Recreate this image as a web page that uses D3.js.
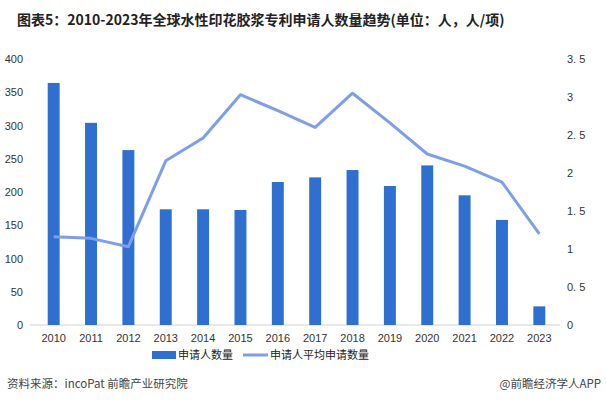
<!DOCTYPE html>
<html>
<head>
<meta charset="utf-8">
<script src="https://cdn.jsdelivr.net/npm/d3@7"></script>
<style>
  body { margin: 0; background: #fff; }
  text { font-family: "Liberation Sans", Arial, sans-serif; }
  .cjk { font-family: "Noto Sans CJK SC", sans-serif; }
</style>
</head>
<body>
<script>
const years = ["2010","2011","2012","2013","2014","2015","2016","2017","2018","2019","2020","2021","2022","2023"];
const applicants = [364, 304, 263, 174, 174, 173, 215, 222, 233, 209, 240, 195, 158, 28];
const avgApps = [1.16, 1.14, 1.03, 2.16, 2.46, 3.03, 2.82, 2.6, 3.05, 2.66, 2.25, 2.09, 1.88, 1.2];
const leftTicks = [0, 50, 100, 150, 200, 250, 300, 350, 400];
const rightTicks = [0, 0.5, 1, 1.5, 2, 2.5, 3, 3.5];

const width = 606, height = 410;
const margin = {top: 59, right: 48, bottom: 85, left: 35};
const barColor = "#2f6fcf", lineColor = "#7e9fe6";

const svg = d3.select("body").append("svg")
              .attr("width", width)
              .attr("height", height);

const x = d3.scaleBand()
            .domain(years)
            .range([margin.left, width - margin.right])
            .paddingInner(0.68)
            .paddingOuter(0.34);

const yL = d3.scaleLinear().domain([0, 400]).range([height - margin.bottom, margin.top]);
const yR = d3.scaleLinear().domain([0, 3.5]).range([height - margin.bottom, margin.top]);

// title
svg.append("text")
   .attr("class", "cjk")
   .attr("x", 17).attr("y", 25)
   .attr("font-size", 14).attr("font-weight", "bold")
   .attr("fill", "#222")
   .text("图表5：2010-2023年全球水性印花胶浆专利申请人数量趋势(单位：人，人/项)");

// baseline
svg.append("line")
   .attr("x1", 30).attr("x2", width - margin.right + 2)
   .attr("y1", yL(0)).attr("y2", yL(0))
   .attr("stroke", "#d0d0d0");

// left axis
const axL = svg.append("g")
   .attr("transform", `translate(${margin.left - 12},0)`)
   .call(d3.axisLeft(yL).tickValues(leftTicks).tickSize(0).tickPadding(0));
axL.select(".domain").remove();
axL.selectAll("text").attr("font-size", 11).attr("fill", "#333")
   .attr("font-family", "'Liberation Sans', Arial, sans-serif");

// right axis
const axR = svg.append("g")
   .attr("transform", `translate(${width - margin.right + 9},0)`)
   .call(d3.axisRight(yR).tickValues(rightTicks).tickSize(0).tickPadding(0)
          .tickFormat(d => String(d).replace(".", ". ")));
axR.select(".domain").remove();
axR.selectAll("text").attr("font-size", 11).attr("fill", "#333")
   .attr("font-family", "'Liberation Sans', Arial, sans-serif");

// bottom axis
const axB = svg.append("g")
   .attr("transform", `translate(0,${yL(0)})`)
   .call(d3.axisBottom(x).tickSize(0).tickPadding(9));
axB.select(".domain").remove();
axB.selectAll("text").attr("font-size", 11).attr("fill", "#333")
   .attr("font-family", "'Liberation Sans', Arial, sans-serif");

// bars
svg.append("g")
   .selectAll("rect")
   .data(applicants)
   .enter().append("rect")
   .attr("x", (d, i) => x(years[i]))
   .attr("y", d => yL(d))
   .attr("width", x.bandwidth())
   .attr("height", d => yL(0) - yL(d))
   .attr("fill", barColor);

// line
const line = d3.line()
               .x((d, i) => x(years[i]) + x.bandwidth() / 2)
               .y(d => yR(d));

svg.append("path")
   .datum(avgApps)
   .attr("d", line)
   .attr("fill", "none")
   .attr("stroke", lineColor)
   .attr("stroke-width", 3)
   .attr("stroke-linejoin", "round");

// legend
const lg = svg.append("g").attr("transform", "translate(0,355)");
lg.append("rect").attr("x", 152).attr("y", -4).attr("width", 24).attr("height", 8).attr("fill", barColor);
lg.append("text").attr("class", "cjk").attr("x", 178).attr("y", 4)
  .attr("font-size", 11).attr("fill", "#222").text("申请人数量");
lg.append("line").attr("x1", 243).attr("x2", 268).attr("y1", 0).attr("y2", 0)
  .attr("stroke", lineColor).attr("stroke-width", 3);
lg.append("text").attr("class", "cjk").attr("x", 270).attr("y", 4)
  .attr("font-size", 11).attr("fill", "#222").text("申请人平均申请数量");

// footer
svg.append("text").attr("class", "cjk").attr("x", 7).attr("y", 388)
   .attr("font-size", 11.5).attr("fill", "#444").text("资料来源：incoPat 前瞻产业研究院");
svg.append("text").attr("class", "cjk").attr("x", 601).attr("y", 388)
   .attr("text-anchor", "end")
   .attr("font-size", 11.5).attr("fill", "#444").text("@前瞻经济学人APP");
</script>
</body>
</html>
